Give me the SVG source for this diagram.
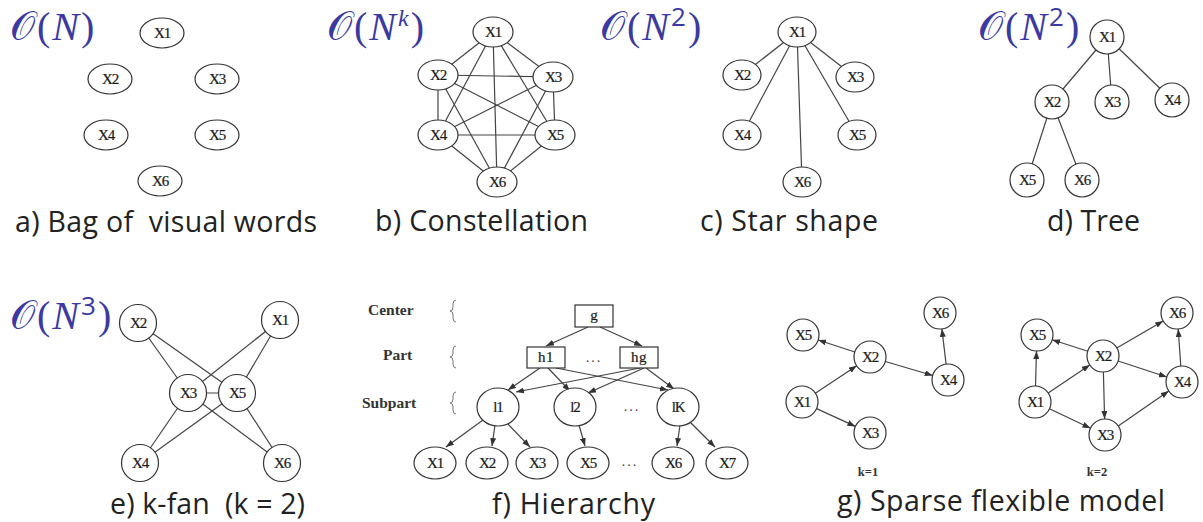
<svg xmlns="http://www.w3.org/2000/svg" width="1203" height="522" viewBox="0 0 1203 522">
<defs>
<style>
.bg{fill:#fff}
.n{fill:#fff;stroke:#333;stroke-width:1.2}
.e{stroke:#444;stroke-width:1.2;fill:none}
.a{stroke:#444;stroke-width:1.2;fill:none;marker-end:url(#ah)}
.t{font-family:"Liberation Serif",serif;font-size:15px;fill:#1a1a1a;text-anchor:middle;letter-spacing:-1.2px;stroke:#1a1a1a;stroke-width:0.2}
.cap{font-family:"Open Sans","Noto Sans",sans-serif;font-size:28.5px;fill:#222;white-space:pre}
.cx{font-family:"Liberation Serif","DejaVu Serif",serif;font-size:40px;fill:#3a3aa0;letter-spacing:2px}
.cal{font-family:"DejaVu Serif","DejaVu Sans","Noto Sans",serif;font-style:normal}
.lbl{font-family:"Liberation Serif",serif;font-size:15.5px;font-weight:bold;fill:#333}
.br{stroke:#777;stroke-width:1;fill:none}
.dots{font-family:"Liberation Serif",serif;font-size:14px;fill:#444;text-anchor:middle;letter-spacing:2px}
.k{font-family:"Liberation Serif",serif;font-size:12.5px;font-weight:bold;fill:#333;text-anchor:middle}
</style>
<marker id="ah" markerWidth="8" markerHeight="6" refX="8" refY="3" orient="auto" markerUnits="userSpaceOnUse">
<path d="M0,0 L8,3 L0,6 z" fill="#333"/>
</marker>
</defs>
<rect class="bg" x="0" y="0" width="1203" height="522"/>

<!-- complexity labels -->
<g id="complexities">
<text class="cx" x="10" y="40"><tspan class="cal">𝒪</tspan>(<tspan font-style="italic">N</tspan>)</text>
<text class="cx" x="327" y="40"><tspan class="cal">𝒪</tspan>(<tspan font-style="italic">N</tspan><tspan font-style="italic" font-size="24" dy="-14">k</tspan><tspan dy="14">)</tspan></text>
<text class="cx" x="600" y="40"><tspan class="cal">𝒪</tspan>(<tspan font-style="italic">N</tspan><tspan font-family="Open Sans,sans-serif" font-size="26" dy="-14">2</tspan><tspan dy="14">)</tspan></text>
<text class="cx" x="978" y="40"><tspan class="cal">𝒪</tspan>(<tspan font-style="italic">N</tspan><tspan font-family="Open Sans,sans-serif" font-size="26" dy="-14">2</tspan><tspan dy="14">)</tspan></text>
<text class="cx" x="10" y="329"><tspan class="cal">𝒪</tspan>(<tspan font-style="italic">N</tspan><tspan font-family="Open Sans,sans-serif" font-size="26" dy="-14">3</tspan><tspan dy="14">)</tspan></text>
</g>

<!-- connectors -->
<g id="connectors">
<!-- b constellation K6 -->
<line class="e" x1="493" y1="32" x2="438" y2="75"/>
<line class="e" x1="493" y1="32" x2="553" y2="77"/>
<line class="e" x1="493" y1="32" x2="438" y2="135"/>
<line class="e" x1="493" y1="32" x2="555" y2="135"/>
<line class="e" x1="493" y1="32" x2="497" y2="182"/>
<line class="e" x1="438" y1="75" x2="553" y2="77"/>
<line class="e" x1="438" y1="75" x2="438" y2="135"/>
<line class="e" x1="438" y1="75" x2="555" y2="135"/>
<line class="e" x1="438" y1="75" x2="497" y2="182"/>
<line class="e" x1="553" y1="77" x2="438" y2="135"/>
<line class="e" x1="553" y1="77" x2="555" y2="135"/>
<line class="e" x1="553" y1="77" x2="497" y2="182"/>
<line class="e" x1="438" y1="135" x2="555" y2="135"/>
<line class="e" x1="438" y1="135" x2="497" y2="182"/>
<line class="e" x1="555" y1="135" x2="497" y2="182"/>
<!-- c star -->
<line class="e" x1="797" y1="32" x2="742" y2="75"/>
<line class="e" x1="797" y1="32" x2="855" y2="77"/>
<line class="e" x1="797" y1="32" x2="742" y2="135"/>
<line class="e" x1="797" y1="32" x2="857" y2="135"/>
<line class="e" x1="797" y1="32" x2="802" y2="182"/>
<!-- d tree -->
<line class="e" x1="1107" y1="37" x2="1052" y2="102"/>
<line class="e" x1="1107" y1="37" x2="1112" y2="102"/>
<line class="e" x1="1107" y1="37" x2="1172" y2="100"/>
<line class="e" x1="1052" y1="102" x2="1027" y2="180"/>
<line class="e" x1="1052" y1="102" x2="1082" y2="180"/>
<!-- e k-fan -->
<line class="e" x1="138" y1="323" x2="188" y2="393"/>
<line class="e" x1="138" y1="323" x2="237" y2="393"/>
<line class="e" x1="280" y1="320" x2="188" y2="393"/>
<line class="e" x1="280" y1="320" x2="237" y2="393"/>
<line class="e" x1="188" y1="393" x2="237" y2="393"/>
<line class="e" x1="188" y1="393" x2="140" y2="463"/>
<line class="e" x1="237" y1="393" x2="140" y2="463"/>
<line class="e" x1="188" y1="393" x2="282" y2="463"/>
<line class="e" x1="237" y1="393" x2="282" y2="463"/>
<!-- f hierarchy -->
<line class="a" x1="588" y1="327" x2="546" y2="346"/>
<line class="a" x1="600" y1="327" x2="642" y2="346"/>
<line class="a" x1="540" y1="368" x2="508" y2="390"/>
<line class="a" x1="548" y1="368" x2="570" y2="391"/>
<line class="a" x1="556" y1="368" x2="668" y2="390"/>
<line class="a" x1="640" y1="368" x2="516" y2="392"/>
<line class="a" x1="644" y1="368" x2="588" y2="393"/>
<line class="a" x1="646" y1="368" x2="674" y2="389"/>
<line class="a" x1="483" y1="420" x2="446" y2="447"/>
<line class="a" x1="495" y1="425" x2="492" y2="446"/>
<line class="a" x1="507" y1="423" x2="530" y2="447"/>
<line class="a" x1="579" y1="425" x2="585" y2="446"/>
<line class="a" x1="680" y1="425" x2="677" y2="446"/>
<line class="a" x1="690" y1="422" x2="715" y2="447"/>
<!-- g sparse k=1 -->
<line class="a" x1="854.8" y1="352" x2="818.2" y2="340"/>
<line class="a" x1="815.3" y1="393.2" x2="856.7" y2="365.8"/>
<line class="a" x1="885.3" y1="361.5" x2="932.7" y2="375.5"/>
<line class="a" x1="946.1" y1="364.1" x2="941.9" y2="328.9"/>
<line class="a" x1="816.6" y1="408.6" x2="855.4" y2="426.4"/>
<!-- g sparse k=2 -->
<line class="a" x1="1035.5" y1="386" x2="1036.5" y2="351"/>
<line class="a" x1="1087.8" y1="351.2" x2="1052.2" y2="339.8"/>
<line class="a" x1="1048.2" y1="393" x2="1089.8" y2="365"/>
<line class="a" x1="1116.8" y1="348" x2="1163.2" y2="321"/>
<line class="a" x1="1118.2" y1="361" x2="1166.8" y2="377"/>
<line class="a" x1="1103.4" y1="372" x2="1104.6" y2="419"/>
<line class="a" x1="1049.5" y1="408.8" x2="1090.5" y2="428.2"/>
<line class="a" x1="1118.2" y1="425.9" x2="1168.8" y2="391.1"/>
<line class="a" x1="1180.8" y1="366" x2="1178.2" y2="329"/>
</g>

<!-- a bag of words -->
<g id="a-X1"><ellipse class="n" cx="162" cy="33" rx="22" ry="15"/><text class="t" x="162" y="38">X1</text></g>
<g id="a-X2"><ellipse class="n" cx="110" cy="79" rx="22" ry="15"/><text class="t" x="110" y="84">X2</text></g>
<g id="a-X3"><ellipse class="n" cx="217" cy="79" rx="22" ry="15"/><text class="t" x="217" y="84">X3</text></g>
<g id="a-X4"><ellipse class="n" cx="106" cy="135" rx="22" ry="15"/><text class="t" x="106" y="140">X4</text></g>
<g id="a-X5"><ellipse class="n" cx="217" cy="135" rx="22" ry="15"/><text class="t" x="217" y="140">X5</text></g>
<g id="a-X6"><ellipse class="n" cx="160" cy="181" rx="22" ry="15"/><text class="t" x="160" y="186">X6</text></g>
<text class="cap" x="15" y="232" textLength="302" lengthAdjust="spacing">a) Bag of  visual words</text>

<!-- b constellation -->
<g id="b-X1"><ellipse class="n" cx="493" cy="32" rx="20" ry="15"/><text class="t" x="493" y="37">X1</text></g>
<g id="b-X2"><ellipse class="n" cx="438" cy="75" rx="20" ry="15"/><text class="t" x="438" y="80">X2</text></g>
<g id="b-X3"><ellipse class="n" cx="553" cy="77" rx="20" ry="15"/><text class="t" x="553" y="82">X3</text></g>
<g id="b-X4"><ellipse class="n" cx="438" cy="135" rx="20" ry="15"/><text class="t" x="438" y="140">X4</text></g>
<g id="b-X5"><ellipse class="n" cx="555" cy="135" rx="20" ry="15"/><text class="t" x="555" y="140">X5</text></g>
<g id="b-X6"><ellipse class="n" cx="497" cy="182" rx="20" ry="15"/><text class="t" x="497" y="187">X6</text></g>
<text class="cap" x="375" y="231" textLength="213" lengthAdjust="spacing">b) Constellation</text>

<!-- c star -->
<g id="c-X1"><ellipse class="n" cx="797" cy="32" rx="19" ry="15"/><text class="t" x="797" y="37">X1</text></g>
<g id="c-X2"><ellipse class="n" cx="742" cy="75" rx="19" ry="15"/><text class="t" x="742" y="80">X2</text></g>
<g id="c-X3"><ellipse class="n" cx="855" cy="77" rx="19" ry="15"/><text class="t" x="855" y="82">X3</text></g>
<g id="c-X4"><ellipse class="n" cx="742" cy="135" rx="19" ry="15"/><text class="t" x="742" y="140">X4</text></g>
<g id="c-X5"><ellipse class="n" cx="857" cy="135" rx="19" ry="15"/><text class="t" x="857" y="140">X5</text></g>
<g id="c-X6"><ellipse class="n" cx="802" cy="182" rx="19" ry="15"/><text class="t" x="802" y="187">X6</text></g>
<text class="cap" x="700" y="231" textLength="178" lengthAdjust="spacing">c) Star shape</text>

<!-- d tree -->
<g id="d-X1"><circle class="n" cx="1107" cy="37" r="17"/><text class="t" x="1107" y="42">X1</text></g>
<g id="d-X2"><circle class="n" cx="1052" cy="102" r="17"/><text class="t" x="1052" y="107">X2</text></g>
<g id="d-X3"><circle class="n" cx="1112" cy="102" r="17"/><text class="t" x="1112" y="107">X3</text></g>
<g id="d-X4"><circle class="n" cx="1172" cy="100" r="17"/><text class="t" x="1172" y="105">X4</text></g>
<g id="d-X5"><circle class="n" cx="1027" cy="180" r="17"/><text class="t" x="1027" y="185">X5</text></g>
<g id="d-X6"><circle class="n" cx="1082" cy="180" r="17"/><text class="t" x="1082" y="185">X6</text></g>
<text class="cap" x="1047" y="231" textLength="93" lengthAdjust="spacing">d) Tree</text>

<!-- e k-fan -->
<g id="e-X2"><circle class="n" cx="138" cy="323" r="18.5"/><text class="t" x="138" y="328">X2</text></g>
<g id="e-X1"><circle class="n" cx="280" cy="320" r="18.5"/><text class="t" x="280" y="325">X1</text></g>
<g id="e-X3"><circle class="n" cx="188" cy="393" r="18.5"/><text class="t" x="188" y="398">X3</text></g>
<g id="e-X5"><circle class="n" cx="237" cy="393" r="18.5"/><text class="t" x="237" y="398">X5</text></g>
<g id="e-X4"><circle class="n" cx="140" cy="463" r="18.5"/><text class="t" x="140" y="468">X4</text></g>
<g id="e-X6"><circle class="n" cx="282" cy="463" r="18.5"/><text class="t" x="282" y="468">X6</text></g>
<text class="cap" x="110" y="514" textLength="195" lengthAdjust="spacing">e) k-fan  (k = 2)</text>

<!-- f hierarchy -->
<g id="f-levels">
<text class="lbl" x="368" y="315">Center</text>
<text class="lbl" x="383" y="360">Part</text>
<text class="lbl" x="362" y="408">Subpart</text>
<path class="br" d="M456,300 q-3,0 -3,4 v3 q0,4 -3,4 q3,0 3,4 v3 q0,4 3,4"/>
<path class="br" d="M456,346 q-3,0 -3,4 v3 q0,4 -3,4 q3,0 3,4 v3 q0,4 3,4"/>
<path class="br" d="M456,392 q-3,0 -3,4 v3 q0,4 -3,4 q3,0 3,4 v3 q0,4 3,4"/>
</g>
<g id="f-g"><rect class="n" x="575" y="305" width="38" height="22"/><text class="t" x="594" y="320" style="letter-spacing:0">g</text></g>
<g id="f-h1"><rect class="n" x="527" y="347" width="38" height="21"/><text class="t" x="546" y="362" style="letter-spacing:0.5px">h1</text></g>
<g id="f-hg"><rect class="n" x="620" y="347" width="38" height="21"/><text class="t" x="639" y="362" style="letter-spacing:0.5px">hg</text></g>
<text class="dots" x="594" y="362">...</text>
<g id="f-l1"><ellipse class="n" cx="498" cy="407" rx="21" ry="19"/><text class="t" x="498" y="412">l1</text></g>
<g id="f-l2"><ellipse class="n" cx="575" cy="407" rx="21" ry="19"/><text class="t" x="575" y="412">l2</text></g>
<g id="f-lK"><ellipse class="n" cx="678" cy="407" rx="21" ry="19"/><text class="t" x="678" y="412">lK</text></g>
<text class="dots" x="632" y="411">...</text>
<g id="f-X1"><ellipse class="n" cx="435" cy="463" rx="21" ry="16"/><text class="t" x="435" y="468">X1</text></g>
<g id="f-X2"><ellipse class="n" cx="487" cy="463" rx="21" ry="16"/><text class="t" x="487" y="468">X2</text></g>
<g id="f-X3"><ellipse class="n" cx="537" cy="463" rx="21" ry="16"/><text class="t" x="537" y="468">X3</text></g>
<g id="f-X5"><ellipse class="n" cx="588" cy="463" rx="21" ry="16"/><text class="t" x="588" y="468">X5</text></g>
<text class="dots" x="630" y="466">...</text>
<g id="f-X6"><ellipse class="n" cx="673" cy="463" rx="21" ry="16"/><text class="t" x="673" y="468">X6</text></g>
<g id="f-X7"><ellipse class="n" cx="727" cy="463" rx="21" ry="16"/><text class="t" x="727" y="468">X7</text></g>
<text class="cap" x="492" y="514" textLength="163" lengthAdjust="spacing">f) Hierarchy</text>

<!-- g sparse k=1 -->
<g id="g1-X5"><circle class="n" cx="803" cy="335" r="16"/><text class="t" x="803" y="340">X5</text></g>
<g id="g1-X2"><circle class="n" cx="870" cy="357" r="16"/><text class="t" x="870" y="362">X2</text></g>
<g id="g1-X6"><circle class="n" cx="940" cy="313" r="16"/><text class="t" x="940" y="318">X6</text></g>
<g id="g1-X4"><circle class="n" cx="948" cy="380" r="16"/><text class="t" x="948" y="385">X4</text></g>
<g id="g1-X1"><circle class="n" cx="802" cy="402" r="16"/><text class="t" x="802" y="407">X1</text></g>
<g id="g1-X3"><circle class="n" cx="870" cy="433" r="16"/><text class="t" x="870" y="438">X3</text></g>
<text class="k" x="868" y="476">k=1</text>
<!-- g sparse k=2 -->
<g id="g2-X5"><circle class="n" cx="1037" cy="335" r="16"/><text class="t" x="1037" y="340">X5</text></g>
<g id="g2-X2"><circle class="n" cx="1103" cy="356" r="16"/><text class="t" x="1103" y="361">X2</text></g>
<g id="g2-X6"><circle class="n" cx="1177" cy="313" r="16"/><text class="t" x="1177" y="318">X6</text></g>
<g id="g2-X4"><circle class="n" cx="1182" cy="382" r="16"/><text class="t" x="1182" y="387">X4</text></g>
<g id="g2-X1"><circle class="n" cx="1035" cy="402" r="16"/><text class="t" x="1035" y="407">X1</text></g>
<g id="g2-X3"><circle class="n" cx="1105" cy="435" r="16"/><text class="t" x="1105" y="440">X3</text></g>
<text class="k" x="1097" y="476">k=2</text>
<text class="cap" x="837" y="511" textLength="328" lengthAdjust="spacing">g) Sparse flexible model</text>
</svg>
